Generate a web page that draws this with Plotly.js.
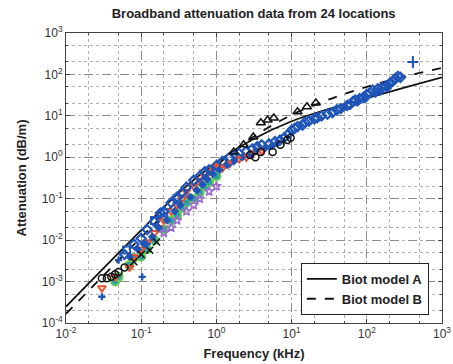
<!DOCTYPE html>
<html>
<head>
<meta charset="utf-8">
<script src="https://cdn.plot.ly/plotly-3.0.1.min.js"></script>
<style>html,body{margin:0;padding:0;background:#fff;}#chart{width:453px;height:364px;}</style>
</head>
<body>
<div id="chart"></div>
<script>
// Biot model curves
var modelFreq = [0.01, 0.0316, 0.1, 0.316, 1, 3.16, 10, 31.6, 100, 316, 1000];
var modelA = [2.5e-4, 2.1e-3, 1.74e-2, 0.138, 0.76, 2.8, 7.4, 14.8, 26.9, 47.9, 85.1];
var modelB = [1.66e-4, 1.41e-3, 1.17e-2, 9.5e-2, 0.63, 3.16, 10.5, 25.1, 50.1, 89.1, 144.5];

// Blue diamonds
var blueF = [0.06, 0.08, 0.1, 0.12, 0.15, 0.18, 0.2, 0.25, 0.3, 0.35, 0.4, 0.5, 0.6, 0.7, 0.8, 1.0, 1.2, 1.5, 1.8, 2.0, 2.5, 3.0, 3.5, 4, 5, 6, 7, 8, 9, 10, 11, 12, 14, 15, 17, 20, 22, 25, 30, 35, 40, 45, 55, 60, 65, 70, 80, 90, 100, 110, 120, 140, 160, 180, 200, 220, 240, 260, 280];
var blueA = [0.0045, 0.008, 0.011, 0.018, 0.028, 0.045, 0.05, 0.08, 0.11, 0.14, 0.19, 0.28, 0.35, 0.45, 0.5, 0.63, 0.8, 1.0, 1.1, 1.25, 1.4, 1.6, 1.8, 2.0, 2.1, 2.4, 2.6, 3.0, 3.6, 4.5, 5.0, 5.5, 6.0, 7.0, 7.5, 8.5, 9.0, 10, 11, 12, 14, 15, 18, 19, 22, 24, 26, 28, 33, 36, 42, 45, 48, 52, 60, 68, 80, 90, 85];
// Second blue series (filled diamonds, lower side of band)
var blue2F = [0.07, 0.09, 0.11, 0.14, 0.17, 0.22, 0.28, 0.33, 0.45, 0.55, 0.65, 0.75, 0.9, 1.1, 1.4, 1.7, 2.2, 2.8, 3.3, 4.5, 5.5, 6.5, 50, 75, 95, 130, 150, 190];
var blue2A = [0.004, 0.006, 0.008, 0.012, 0.02, 0.03, 0.05, 0.07, 0.11, 0.16, 0.22, 0.3, 0.4, 0.5, 0.65, 0.8, 1.0, 1.2, 1.4, 1.7, 1.9, 2.2, 16, 21, 25, 34, 38, 47];
// Blue outlier with error bar
var outF = [410];
var outA = [200];
var outErrUp = [80];
var outErrDown = [60];
// Red-orange triangles
var redF = [0.03, 0.045, 0.07, 0.08, 0.1, 0.12, 0.15, 0.17, 0.2, 0.25, 0.3, 0.35, 0.4, 0.5, 0.6, 0.7, 0.8, 0.9, 1.0, 1.2, 1.5, 2.0, 2.5, 3.0, 4.0];
var redA = [0.0007, 0.0013, 0.0022, 0.004, 0.006, 0.009, 0.015, 0.02, 0.03, 0.05, 0.07, 0.1, 0.15, 0.2, 0.28, 0.35, 0.45, 0.55, 0.6, 0.55, 0.7, 0.9, 1.0, 1.2, 1.4];
// Green circles (teal centres)
var greenF = [0.045, 0.05, 0.07, 0.08, 0.1, 0.12, 0.15, 0.2, 0.25, 0.3, 0.35, 0.4, 0.5, 0.6, 0.7, 0.8, 1.0];
var greenA = [0.001, 0.0013, 0.0025, 0.0037, 0.004, 0.006, 0.01, 0.018, 0.03, 0.04, 0.06, 0.08, 0.1, 0.14, 0.2, 0.25, 0.35];
// Purple stars
var purpleF = [0.2, 0.25, 0.3, 0.4, 0.5, 0.6, 0.8, 1.0];
var purpleA = [0.015, 0.02, 0.03, 0.05, 0.07, 0.1, 0.15, 0.2];
// Blue open squares
var sqF = [0.064, 0.15, 0.2, 0.3];
var sqA = [0.0058, 0.03, 0.045, 0.1];
// Black circles
var bcF = [0.03, 0.035, 0.04, 0.045, 0.05, 0.06, 2.8, 3.3, 3.9, 5.6, 7.1, 8.8, 9.7];
var bcA = [0.0012, 0.0012, 0.0013, 0.0015, 0.0017, 0.0022, 1.14, 1.0, 1.35, 1.35, 2.0, 2.6, 2.95];
// Black triangles
var btF = [1.7, 2.3, 3.1, 3.9, 4.8, 5.8, 12, 16, 21];
var btA = [1.35, 2.0, 3.1, 6.8, 7.9, 8.9, 12.6, 16.6, 20.4];
// Black crosses
var bxF = [0.08, 0.1, 0.13, 0.16];
var bxA = [0.003, 0.0045, 0.0057, 0.009];
// Blue plus
var bpF = [0.03, 0.05, 0.103, 0.12];
var bpA = [0.00043, 0.0033, 0.0013, 0.008];

// Axis tick labels
var xTickVals = [0.01, 0.1, 1, 10, 100, 1000];
var xTickText = ['10<sup>-2</sup>', '10<sup>-1</sup>', '10<sup>0</sup>', '10<sup>1</sup>', '10<sup>2</sup>', '10<sup>3</sup>'];
var yTickVals = [1e-4, 1e-3, 1e-2, 1e-1, 1, 10, 100, 1000];
var yTickText = ['10<sup>-4</sup>', '10<sup>-3</sup>', '10<sup>-2</sup>', '10<sup>-1</sup>', '10<sup>0</sup>', '10<sup>1</sup>', '10<sup>2</sup>', '10<sup>3</sup>'];

var BLUE = '#1f55b8', RED = '#e8502e', GREEN = '#66cc55', TEAL = '#2a9fa8', PURPLE = '#9a6ad0';

function sc(x, y, sym, color, size, lw, fill) {
  return {x: x, y: y, type: 'scatter', mode: 'markers', showlegend: false, hoverinfo: 'skip',
    marker: {symbol: sym, size: size, color: fill || color, line: {color: color, width: lw}}};
}

var traces = [
  {x: modelFreq, y: modelA, type: 'scatter', mode: 'lines', name: 'Biot model A',
   line: {color: '#111', width: 1.8, shape: 'spline'}},
  {x: modelFreq, y: modelB, type: 'scatter', mode: 'lines', name: 'Biot model B',
   line: {color: '#111', width: 1.8, dash: 'dash', shape: 'spline'}},
  sc(greenF, greenA, 'circle', GREEN, 8, 2, TEAL),
  sc(purpleF, purpleA, 'star-open', PURPLE, 7, 1.5),
  sc(redF, redA, 'triangle-down-open', RED, 7, 2),
  sc(blue2F, blue2A, 'diamond', BLUE, 6, 1),
  sc(blueF, blueA, 'diamond-open', BLUE, 7, 2.2),
  sc(redF.slice(18), redA.slice(18).map(function(v){return v*1.1;}), 'circle', RED, 4, 0),
  sc(sqF, sqA, 'square-open', BLUE, 7, 2),
  sc(bcF, bcA, 'circle-open', '#111', 7, 1.5),
  sc(btF, btA, 'triangle-up-open', '#111', 8, 1.5),
  sc(bxF, bxA, 'x-thin-open', '#111', 7, 1.5),
  sc(bpF, bpA, 'cross', BLUE, 6, 0),
  {x: outF, y: outA, type: 'scatter', mode: 'markers', showlegend: false, hoverinfo: 'skip',
   marker: {symbol: 'cross-thin-open', size: 8, color: BLUE, line: {color: BLUE, width: 2}},
   error_y: {type: 'data', symmetric: false, array: outErrUp, arrayminus: outErrDown, color: BLUE, thickness: 1.5, width: 0}}
];

var axisCommon = {
  type: 'log', showline: true, mirror: 'ticks', linecolor: '#444', linewidth: 1,
  ticks: 'inside', ticklen: 4, tickcolor: '#444',
  showgrid: true, gridcolor: '#8c8c8c', griddash: 'dash', gridwidth: 1,
  minor: {showgrid: true, gridcolor: '#aeaeae', griddash: 'dot', gridwidth: 1, ticks: 'inside', ticklen: 2, tickcolor: '#444'},
  tickfont: {family: 'Liberation Sans, Arial, sans-serif', size: 12, color: '#333'},
  zeroline: false
};

var layout = {
  width: 453, height: 364,
  margin: {l: 66, r: 11, t: 33, b: 41},
  paper_bgcolor: '#fff', plot_bgcolor: '#fff',
  font: {family: 'Liberation Sans, Arial, sans-serif', color: '#222'},
  title: {text: '<b>Broadband attenuation data from 24 locations</b>', font: {size: 13, color: '#222'},
          x: 0.56, xanchor: 'center', y: 0.962, yanchor: 'middle'},
  xaxis: Object.assign({}, axisCommon, {
    range: [-2, 3], tickvals: xTickVals, ticktext: xTickText,
    title: {text: '<b>Frequency (kHz)</b>', font: {size: 13, color: '#222'}, standoff: 8}
  }),
  yaxis: Object.assign({}, axisCommon, {
    range: [-4, 3], tickvals: yTickVals, ticktext: yTickText,
    title: {text: '<b>Attenuation (dB/m)</b>', font: {size: 13, color: '#222'}, standoff: 12}
  }),
  legend: {x: 0.965, xanchor: 'right', y: 0.028, yanchor: 'bottom', bgcolor: '#fff',
           bordercolor: '#222', borderwidth: 1, font: {size: 13, color: '#222', weight: 'bold'},
           tracegroupgap: 0},
  showlegend: true
};

Plotly.newPlot('chart', traces, layout, {displayModeBar: false, staticPlot: true});
</script>
</body>
</html>
